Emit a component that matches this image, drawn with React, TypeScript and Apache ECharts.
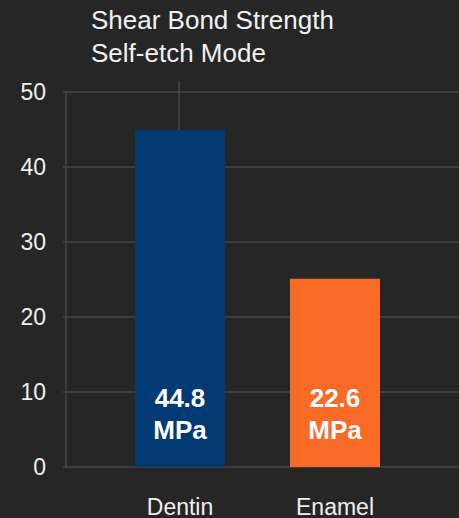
import React, { useEffect, useRef } from "react";
import * as echarts from "echarts";

const categories = ["Dentin", "Enamel"];
const barValues = [44.9, 25.1];
const labelTexts = ["44.8", "22.6"];
const barColors = ["#023a74", "#f86b26"];
const titleLines = ["Shear Bond Strength", "Self-etch Mode"];
const unit = "MPa";

const FONT = '"Liberation Sans", Arial, sans-serif';

export default function App() {
  const ref = useRef<HTMLDivElement>(null);
  useEffect(() => {
    if (!ref.current) return;
    const chart = echarts.init(ref.current, null, { renderer: "svg" });
    const option: any = {
      animation: false,
      backgroundColor: "#262626",
      textStyle: { fontFamily: FONT },
      title: {
        text: titleLines.join("\n"),
        left: 86,
        top: -2,
        textStyle: {
          fontFamily: FONT,
          fontSize: 26,
          lineHeight: 33,
          fontWeight: "normal",
          color: "#f2f2f2",
        },
      },
      grid: [
        { left: 66, right: 0, top: 92, bottom: 51 },
        { left: 102.5, right: 46.5, top: 92, bottom: 51 },
      ],
      xAxis: [
        { type: "category", gridIndex: 0, show: false, data: categories },
        {
          type: "category",
          gridIndex: 1,
          data: categories,
          axisLine: { show: false },
          axisTick: { show: false },
          axisLabel: {
            fontFamily: FONT,
            fontSize: 23,
            color: "#f0f0f0",
            margin: 28,
          },
        },
      ],
      yAxis: [
        {
          type: "value",
          gridIndex: 0,
          min: 0,
          max: 50,
          interval: 10,
          axisLine: { show: true, lineStyle: { color: "#464646", width: 1.5 } },
          axisTick: { show: true, length: 3, lineStyle: { color: "#464646", width: 1.5 } },
          splitLine: { show: true, lineStyle: { color: "#464646", width: 1.5 } },
          axisLabel: {
            fontFamily: FONT,
            fontSize: 23,
            color: "#f0f0f0",
            margin: 20,
            padding: [4, 0, 0, 0],
          },
        },
        { type: "value", gridIndex: 1, min: 0, max: 50, show: false },
      ],
      series: [
        {
          type: "bar",
          xAxisIndex: 1,
          yAxisIndex: 1,
          barWidth: 90,
          data: barValues.map((v, i) => ({ value: v, itemStyle: { color: barColors[i] } })),
          label: {
            show: true,
            position: "insideBottom",
            distance: 21,
            formatter: (p: any) => labelTexts[p.dataIndex] + "\n" + unit,
            fontFamily: FONT,
            fontSize: 26,
            lineHeight: 32,
            fontWeight: "bold",
            color: "#ffffff",
          },
        },
      ],
    };
    chart.setOption(option);
    const pt = chart.convertToPixel({ seriesIndex: 0 }, [0, barValues[0]]) as number[];
    if (pt) {
      chart.setOption({
        graphic: [
          {
            type: "line",
            shape: { x1: pt[0] - 1, y1: 81, x2: pt[0] - 1, y2: pt[1] },
            style: { stroke: "#555555", lineWidth: 1 },
            z: 10,
          },
        ],
      });
    }
    return () => chart.dispose();
  }, []);
  return (
    <div
      ref={ref}
      style={{ position: "fixed", left: 0, top: 0, width: 459, height: 518 }}
    />
  );
}
